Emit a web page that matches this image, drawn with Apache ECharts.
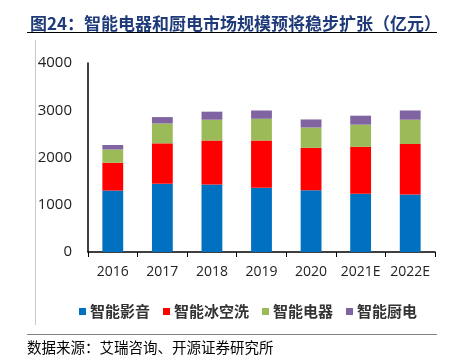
<!DOCTYPE html>
<html><head><meta charset="utf-8">
<script src="https://cdn.jsdelivr.net/npm/echarts@6/dist/echarts.min.js"></script>
<style>html,body{margin:0;padding:0;background:#fff}#c{width:450px;height:361px}</style>
</head><body><div id="c"></div>
<script>
const categories = ['2016','2017','2018','2019','2020','2021E','2022E'];
const seriesNames = ['智能影音','智能冰空洗','智能电器','智能厨电'];
const av = [1300,1445,1430,1360,1305,1235,1215];
const fridge = [590,855,930,1000,900,990,1070];
const appliance = [280,420,440,460,430,470,515];
const kitchen = [95,135,170,175,170,190,195];
const yTicks = [0,1000,2000,3000,4000];
const colors = ['#0070C0','#FF0000','#9BBB59','#8064A2'];
const values = [av, fridge, appliance, kitchen];

const chart = echarts.init(document.getElementById('c'));
chart.setOption({
  animation:false,
  color: colors,
  title:{
    text:'图24：智能电器和厨电市场规模预将稳步扩张（亿元）',
    left:25, top:10,
    textStyle:{fontFamily:'Noto Sans CJK SC', fontSize:17, fontWeight:'bold', color:'#1F3A78'}
  },
  graphic:[
    {type:'line', shape:{x1:27,y1:32.5,x2:437,y2:32.5}, style:{stroke:'#000',lineWidth:1}},
    {type:'line', shape:{x1:35.5,y1:40,x2:35.5,y2:325}, style:{stroke:'#c8c8c8',lineWidth:1}},
    {type:'line', shape:{x1:27,y1:334.5,x2:437,y2:334.5}, style:{stroke:'#808080',lineWidth:1}},
    {type:'text', left:27, top:340, style:{text:'数据来源：艾瑞咨询、开源证券研究所', font:'14.5px "Noto Sans CJK SC"', fill:'#000'}}
  ],
  legend:{
    data: seriesNames,
    top:299, left:74,
    itemWidth:7, itemHeight:7, itemGap:13,
    icon:'rect',
    textStyle:{fontFamily:'Noto Sans CJK SC', fontSize:15, fontWeight:'bold', color:'#333', padding:[0,0,0,-1]}
  },
  grid:{left:88, right:15, top:63, bottom:109},
  xAxis:{
    type:'category', data:categories,
    axisLine:{lineStyle:{color:'#000',width:1.5}},
    axisTick:{show:true, length:5, lineStyle:{color:'#000'}},
    axisLabel:{fontFamily:'Open Sans', fontSize:14, color:'#222', margin:13, interval:0}
  },
  yAxis:{
    type:'value', min:0, max:4000, interval:1000,
    axisLine:{show:true, lineStyle:{color:'#000',width:1.5}},
    axisTick:{show:false},
    splitLine:{show:false},
    axisLabel:{fontFamily:'Open Sans', fontSize:15, color:'#222', margin:16,
      formatter:v => yTicks.includes(v) ? String(v) : ''}
  },
  series: seriesNames.map((n,i)=>({
    name:n, type:'bar', stack:'s', data: values[i], barWidth:'42%',
    itemStyle:{color:colors[i]}
  }))
});
</script></body></html>
